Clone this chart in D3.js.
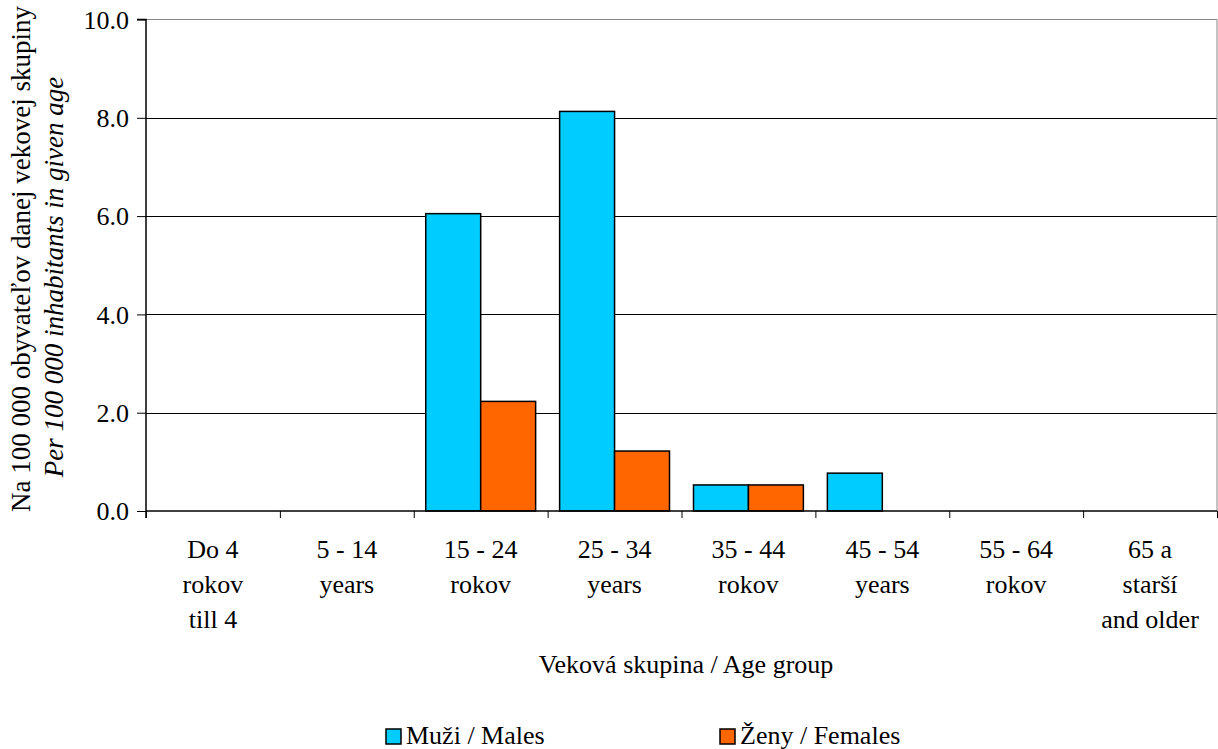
<!DOCTYPE html>
<html><head><meta charset="utf-8">
<script src="https://cdn.jsdelivr.net/npm/d3@7"></script>
</head><body style="margin:0;background:#fff">
<svg id="c" width="1218" height="749" style="display:block"></svg>
<script>
const categories = ["Do 4|rokov|till 4","5 - 14|years","15 - 24|rokov","25 - 34|years","35 - 44|rokov","45 - 54|years","55 - 64|rokov","65 a|starší|and older"];
const males = [0, 0, 6.05, 8.13, 0.53, 0.77, 0, 0];
const females = [0, 0, 2.23, 1.22, 0.53, 0, 0, 0];
const seriesNames = ["Muži / Males", "Ženy / Females"];
const seriesColors = ["#00CCFF", "#FF6600"];
const yTicks = [0, 2, 4, 6, 8, 10];

const svg = d3.select("#c");
const L = 146, R = 1217, T = 19.5, B = 511;
const x0 = d3.scaleBand().domain(d3.range(categories.length)).range([L, R]).padding(0);
const x1 = d3.scaleBand().domain([0,1]).range([12, x0.bandwidth()-12]).padding(0);
const y = d3.scaleLinear().domain([0, 10]).range([B, T]);

function txt(sel, fs) { return sel.style("font-family", '"Liberation Serif"').style("font-size", (fs || 26) + "px").attr("fill", "#000"); }

svg.append("g").selectAll("line").data(yTicks.filter(d=>d>0 && d<10)).join("line")
  .attr("x1", L).attr("x2", R).attr("y1", d=>Math.round(y(d))+0.5).attr("y2", d=>Math.round(y(d))+0.5)
  .attr("stroke", "#000").attr("stroke-width", 1);
svg.append("path").attr("d", `M${L},${T}H${R}V${B}`).attr("fill","none").attr("stroke","#888").attr("stroke-width",1);

const data = [males, females];
const gBars = svg.append("g");
categories.forEach((c, i) => {
  data.forEach((s, j) => {
    if (s[i] <= 0) return;
    gBars.append("rect")
      .attr("x", x0(i) + x1(j)).attr("width", x1.bandwidth())
      .attr("y", y(s[i])).attr("height", y(0) - y(s[i]))
      .attr("fill", seriesColors[j]).attr("stroke", "#000").attr("stroke-width", 1.5);
  });
});

const yAxis = d3.axisLeft(y).tickValues(yTicks).tickFormat(d3.format(".1f")).tickSize(9).tickPadding(8);
const gy = svg.append("g").attr("transform", `translate(${L},0)`).call(yAxis);
gy.select(".domain").attr("stroke","#000").attr("stroke-width",1.5).attr("d", `M-9,${T}H0V${B+7}`);
gy.selectAll(".tick line").attr("stroke","#000");
txt(gy.selectAll(".tick text")).attr("dy","0.34em");

const xAxis = d3.axisBottom(d3.scaleLinear().domain([0, categories.length]).range([L, R]))
  .tickValues(d3.range(categories.length+1)).tickFormat("").tickSize(7);
const gx = svg.append("g").attr("transform", `translate(0,${B})`).call(xAxis);
gx.select(".domain").attr("stroke","#000").attr("stroke-width",1.5).attr("d", `M${L},0H${R}`);
gx.selectAll(".tick line").attr("stroke","#000");

categories.forEach((c, i) => {
  const cx = x0(i) + x0.bandwidth()/2;
  const t = txt(svg.append("text")).attr("text-anchor","middle").attr("x", cx).attr("y", 558);
  c.split("|").forEach((ln, k) => t.append("tspan").attr("x", cx).attr("dy", k ? 35 : 0).text(ln));
});

txt(svg.append("text")).attr("text-anchor","middle").attr("x", 686).attr("y", 673).text("Veková skupina / Age group");
txt(svg.append("text"), 27).attr("text-anchor","middle").attr("transform", "translate(30,259) rotate(-90)")
  .text("Na 100 000 obyvateľov danej vekovej skupiny");
txt(svg.append("text"), 27).attr("text-anchor","middle").attr("transform", "translate(63,277) rotate(-90)")
  .style("font-style","italic").text("Per 100 000 inhabitants in given age");

const legX = [386, 720];
seriesNames.forEach((n, j) => {
  svg.append("rect").attr("x", legX[j]).attr("y", 729).attr("width", 15).attr("height", 15)
    .attr("fill", seriesColors[j]).attr("stroke","#000").attr("stroke-width",1.5);
  txt(svg.append("text")).attr("x", legX[j]+20).attr("y", 744).text(n);
});
</script>
</body></html>
